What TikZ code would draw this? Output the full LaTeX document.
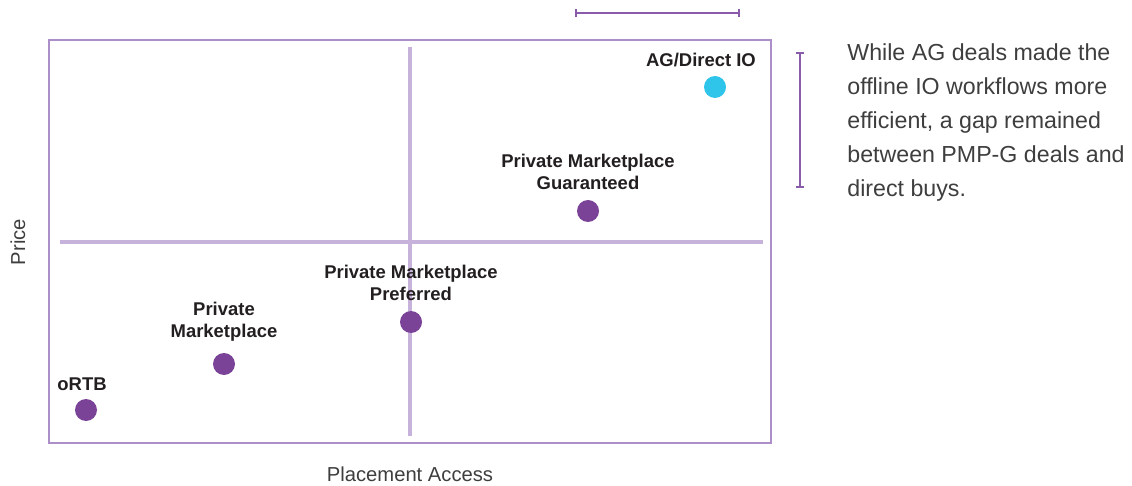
\documentclass[tikz,border=0pt]{standalone}
\usepackage{fontspec}
\setmainfont{Liberation Sans}
\usetikzlibrary{positioning,arrows.meta}

\definecolor{framelilac}{HTML}{AC8FC8}
\definecolor{quadlilac}{HTML}{C6B2DB}
\definecolor{bracketpurple}{HTML}{8A5AAB}
\definecolor{dealpurple}{HTML}{7B4397}
\definecolor{directcyan}{HTML}{2FC5EB}
\definecolor{inkgray}{HTML}{231F20}
\definecolor{notegray}{HTML}{3E3E3E}

\tikzset{
    deal/.style={circle, fill=dealpurple, minimum size=4.4mm, inner sep=0pt},
    dealname/.style={font=\bfseries\fontsize{10.5}{12.5}\selectfont, text=inkgray, align=center, inner sep=1pt},
    axisname/.style={font=\fontsize{11.5}{14}\selectfont, text=notegray},
    gap/.style={draw=bracketpurple, line width=0.9pt, {Bar[width=5pt]}-{Bar[width=5pt]}}
}

\begin{document}
\begin{tikzpicture}[x=0.2mm, y=-0.2mm]
    \useasboundingbox (0, 0) rectangle (1132, 486);

    % chart frame and quadrant cross
    \draw[framelilac, line width=1pt] (49, 40) rectangle (771, 443);
    \coordinate (hl) at (60, 242);
    \coordinate (hr) at (763, 242);
    \coordinate (vt) at (410, 47);
    \coordinate (vb) at (410, 436);
    \draw[quadlilac, line width=2.2pt] (hl) -- (hr);
    \draw[quadlilac, line width=2.2pt] (vt) -- (vb);

    % deal types
    \node[deal] (ortb) at (86, 410) {};
    \node[deal] (pm) at (224, 364) {};
    \node[deal] (pmpp) at (411, 322) {};
    \node[deal] (pmpg) at (588, 211) {};
    \node[deal, fill=directcyan] (agio) at (715, 87) {};

    \node[dealname, above=1.2mm of ortb, xshift=-0.8mm] (ortb label) {oRTB};
    \node[dealname, above=1.8mm of pm] (pm label) {Private\\Marketplace};
    \node[dealname, above=1.6mm of pmpp] (pmpp label) {Private Marketplace\\Preferred};
    \node[dealname, above=1.5mm of pmpg] (pmpg label) {Private Marketplace\\Guaranteed};
    \node[dealname, above=1.4mm of agio, xshift=-2.8mm] (agio label) {AG/Direct IO};

    % axes
    \node[axisname, rotate=90] (price) at (18, 242) {Price};
    \node[axisname] (access) at (410, 474) {Placement Access};

    % the gap
    \coordinate (gap left) at (575, 13);
    \coordinate (gap right) at (740, 13);
    \coordinate (gap top) at (800, 52);
    \coordinate (gap bottom) at (800, 188);
    \draw[gap] (gap left) -- (gap right);
    \draw[gap] (gap top) -- (gap bottom);

    \node[anchor=north west, align=left, text=notegray, inner sep=0pt,
          font=\fontsize{13.2}{19.4}\selectfont] (note) at (847, 43)
        {While AG deals made the\\offline IO workflows more\\efficient, a gap remained\\between PMP-G deals and\\direct buys.};
\end{tikzpicture}
\end{document}
